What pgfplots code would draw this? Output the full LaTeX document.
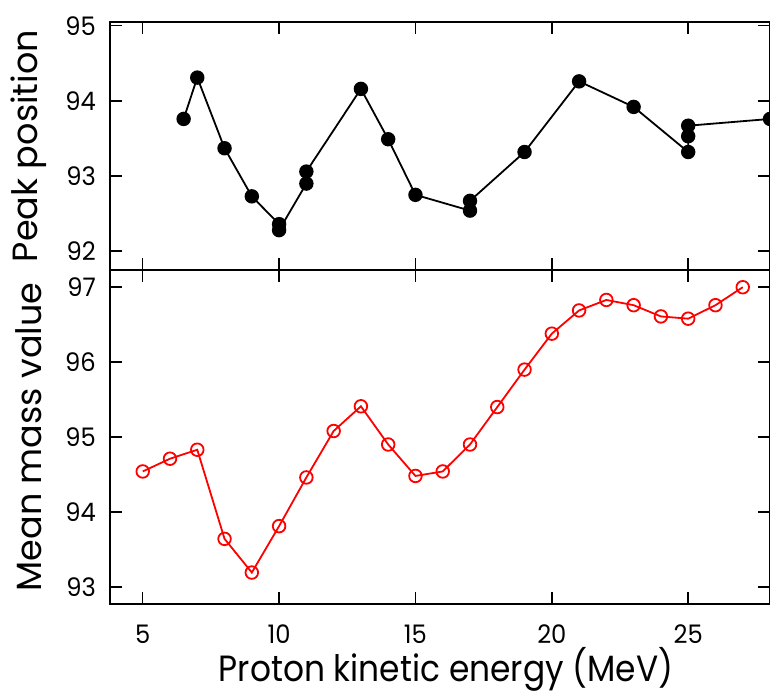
\documentclass[border=0pt]{standalone}
\usepackage{fontspec}
\setmainfont{Poppins}
\newfontfamily\narrowfont[FakeStretch=0.9]{Poppins}
\newfontfamily\tickfont[FakeStretch=0.95]{Poppins}
\usepackage{pgfplots}
\usepackage{pgfplotstable}
\pgfplotsset{compat=1.18}

% peak position (upper panel)
\pgfplotstableread{
x    y
6.5  93.76
7    94.31
8    93.37
9    92.73
10   92.36
10   92.28
11   92.90
11   93.06
13   94.16
14   93.49
15   92.75
17   92.54
17   92.67
19   93.32
21   94.26
23   93.92
25   93.32
25   93.53
25   93.67
28   93.76
}\peaktable

% mean mass value (lower panel)
\pgfplotstableread{
x   y
5   94.54
6   94.71
7   94.83
8   93.64
9   93.19
10  93.81
11  94.46
12  95.08
13  95.41
14  94.90
15  94.48
16  94.54
17  94.90
18  95.40
19  95.90
20  96.38
21  96.69
22  96.83
23  96.76
24  96.61
25  96.58
26  96.76
27  97.00
}\masstable

\begin{document}
\begin{tikzpicture}
\pgfplotsset{
  panel/.style={
    scale only axis, width=660pt,
    xmin=3.8, xmax=28,
    xtick={5,10,15,20,25},
    tick align=inside,
    major tick length=12pt,
    every tick/.style={black, line width=1.5pt},
    axis line style={line width=1.6pt},
    clip marker paths=true,
    /pgf/number format/assume math mode=true,
    tick label style={font=\tickfont\fontsize{25.5}{26}\selectfont, inner sep=0pt},
    xticklabel style={anchor=base, yshift=-39pt},
    yticklabel style={anchor=east, xshift=-14pt},
    ylabel style={font=\fontsize{35}{38}\selectfont, inner sep=0pt,
      at={(axis description cs:-0.1227,0.5)}, anchor=center},
    xlabel style={font=\narrowfont\fontsize{36.5}{40}\selectfont, inner sep=0pt,
      at={(axis description cs:0.5,0)}, anchor=base, xshift=6pt, yshift=-77pt},
  }
}
\begin{axis}[panel,
  height=334pt,
  ymin=92.77, ymax=97.23,
  ytick={93,94,95,96,97},
  xlabel={Proton kinetic energy (MeV)},
  ylabel={Mean mass value},
]
\addplot[red, line width=1.8pt, mark=o, mark size=6.3pt,
  mark options={fill=white, line width=1.8pt}] table[x=x, y=y] {\masstable};
\end{axis}

\begin{axis}[panel,
  at={(0,334pt)},
  height=248pt,
  ymin=91.75, ymax=95.05,
  ytick={92,93,94,95},
  xticklabels={},
  ylabel={Peak position},
]
\addplot[black, line width=1.8pt, mark=*, mark size=6.3pt] table[x=x, y=y] {\peaktable};
\end{axis}
\pgfresetboundingbox
\path[use as bounding box] (-110pt,-91pt) rectangle (660pt,604pt);
\end{tikzpicture}
\end{document}
